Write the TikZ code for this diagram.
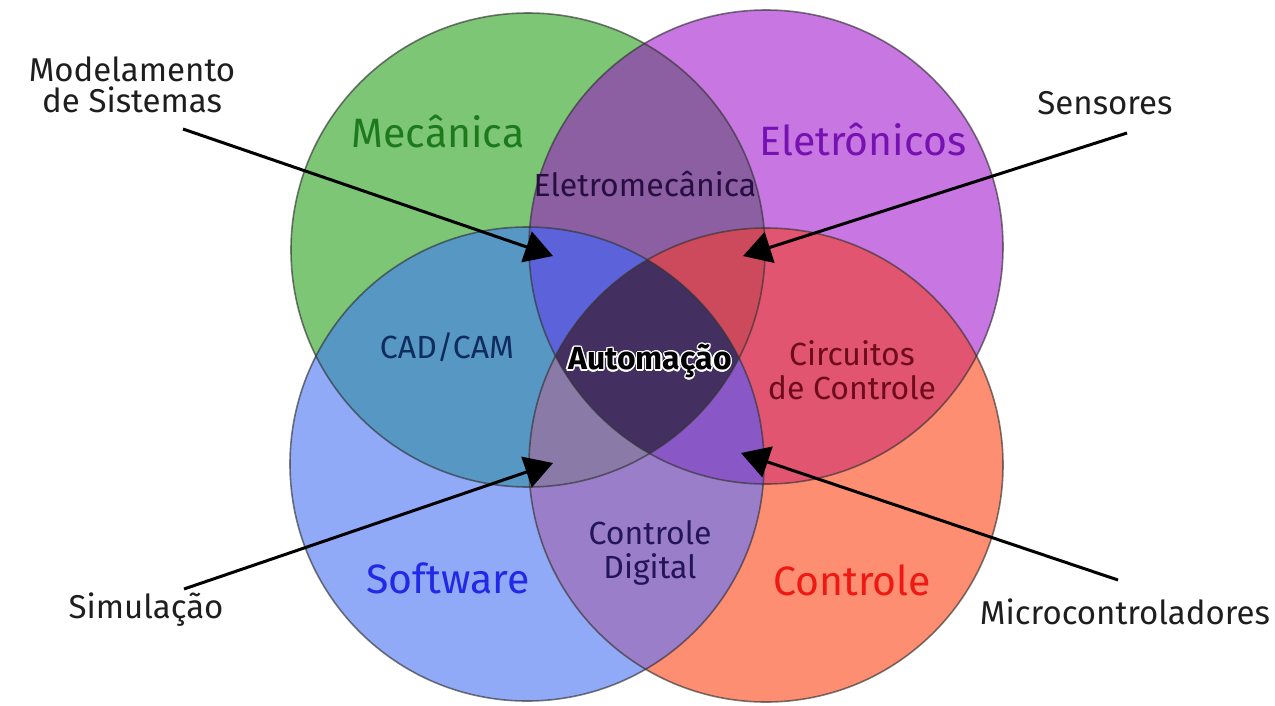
\documentclass[tikz,border=0pt]{standalone}
\usepackage{fontspec}
\setmainfont{Fira Sans}
\usepackage{contour}
\contourlength{1.3pt}
\usetikzlibrary{arrows.meta}
\definecolor{cG}{RGB}{125,198,118}
\definecolor{cP}{RGB}{200,118,226}
\definecolor{cB}{RGB}{145,170,248}
\definecolor{cR}{RGB}{254,142,114}
\definecolor{cGP}{RGB}{139,95,162}
\definecolor{cGB}{RGB}{86,151,196}
\definecolor{cPR}{RGB}{226,85,113}
\definecolor{cBR}{RGB}{154,126,202}
\definecolor{cGPB}{RGB}{92,98,218}
\definecolor{cGPR}{RGB}{205,74,92}
\definecolor{cGBR}{RGB}{138,122,168}
\definecolor{cPBR}{RGB}{137,88,198}
\definecolor{cAll}{RGB}{68,48,96}
\definecolor{tG}{RGB}{28,122,28}
\definecolor{tP}{RGB}{118,18,178}
\definecolor{tB}{RGB}{34,40,230}
\definecolor{tR}{RGB}{238,24,20}
\definecolor{tGP}{RGB}{40,14,64}
\definecolor{tGB}{RGB}{14,44,92}
\definecolor{tPR}{RGB}{110,12,30}
\definecolor{tBR}{RGB}{36,20,88}
\definecolor{tSide}{RGB}{30,30,30}
\tikzset{
  ring/.style={draw=black!80, draw opacity=0.65, line width=1.6pt},
  biglabel/.style={font=\fontsize{41}{45}\selectfont, inner sep=0pt},
  inlabel/.style={font=\fontsize{32}{34}\selectfont, inner sep=0pt, align=center},
  sidelabel/.style={font=\fontsize{33}{31}\selectfont, inner sep=0pt, align=center, text=tSide},
  pointer/.style={line width=3pt, -{Triangle[length=28pt,width=32pt]}, black}
}
\begin{document}
\begin{tikzpicture}[x=1pt,y=-1pt]
\useasboundingbox (0,0) rectangle (1275,705);
\fill[white] (0,0) rectangle (1275,705);
\coordinate (G) at (528,250);
\coordinate (P) at (766,247);
\coordinate (B) at (527,464);
\coordinate (Rc) at (766,465);
\def\rad{237pt}
% single circles
\fill[cG] (G) circle[radius=\rad];
\fill[cP] (P) circle[radius=\rad];
\fill[cB] (B) circle[radius=\rad];
\fill[cR] (Rc) circle[radius=\rad];
% pairs
\begin{scope}\clip (G) circle[radius=\rad]; \fill[cGP] (P) circle[radius=\rad];\end{scope}
\begin{scope}\clip (G) circle[radius=\rad]; \fill[cGB] (B) circle[radius=\rad];\end{scope}
\begin{scope}\clip (P) circle[radius=\rad]; \fill[cPR] (Rc) circle[radius=\rad];\end{scope}
\begin{scope}\clip (B) circle[radius=\rad]; \fill[cBR] (Rc) circle[radius=\rad];\end{scope}
% triples
\begin{scope}\clip (G) circle[radius=\rad]; \clip (P) circle[radius=\rad]; \fill[cGPB] (B) circle[radius=\rad];\end{scope}
\begin{scope}\clip (G) circle[radius=\rad]; \clip (P) circle[radius=\rad]; \fill[cGPR] (Rc) circle[radius=\rad];\end{scope}
\begin{scope}\clip (G) circle[radius=\rad]; \clip (B) circle[radius=\rad]; \fill[cGBR] (Rc) circle[radius=\rad];\end{scope}
\begin{scope}\clip (P) circle[radius=\rad]; \clip (B) circle[radius=\rad]; \fill[cPBR] (Rc) circle[radius=\rad];\end{scope}
% all four
\begin{scope}\clip (G) circle[radius=\rad]; \clip (P) circle[radius=\rad]; \clip (B) circle[radius=\rad]; \fill[cAll] (Rc) circle[radius=\rad];\end{scope}
% outlines
\draw[ring] (G) circle[radius=\rad];
\draw[ring] (P) circle[radius=\rad];
\draw[ring] (B) circle[radius=\rad];
\draw[ring] (Rc) circle[radius=\rad];
% main labels
\node[biglabel, text=tG] (mec) at (438,132) {Mecânica};
\node[biglabel, text=tP] (ele) at (863,140) {Eletrônicos};
\node[biglabel, text=tB] (sof) at (448,578) {Software};
\node[biglabel, text=tR] (con) at (852,580) {Controle};
% intersection labels
\node[inlabel, text=tGP] (emec) at (645,184) {Eletromecânica};
\node[inlabel, text=tGB] (cad) at (447,347) {CAD/CAM};
\node[inlabel, text=tPR] (circ) at (852,370) {Circuitos\\de Controle};
\node[inlabel, text=tBR] (cdig) at (650,553) {Controle\\Digital};
\node[font=\fontsize{32}{33}\selectfont\bfseries, inner sep=0pt, text=black] (auto) at (650,362) {\contour{white}{Automação}};
% side labels
\node[sidelabel] (model) at (132,85) {Modelamento\\de Sistemas};
\node[sidelabel] (sens) at (1105,103) {Sensores};
\node[sidelabel] (simu) at (146,610) {Simulação};
\node[sidelabel] (micro) at (1125,612) {Microcontroladores};
% arrow ends
\coordinate (mS) at (183,129);
\coordinate (mT) at (553,256);
\coordinate (sS) at (1127,133);
\coordinate (sT) at (743,256);
\coordinate (iS) at (184,589);
\coordinate (iT) at (553,463);
\coordinate (cS) at (1118,580);
\coordinate (cT) at (741,453);
\draw[pointer] (mS) -- (mT);
\draw[pointer] (sS) -- (sT);
\draw[pointer] (iS) -- (iT);
\draw[pointer] (cS) -- (cT);
\end{tikzpicture}
\end{document}
